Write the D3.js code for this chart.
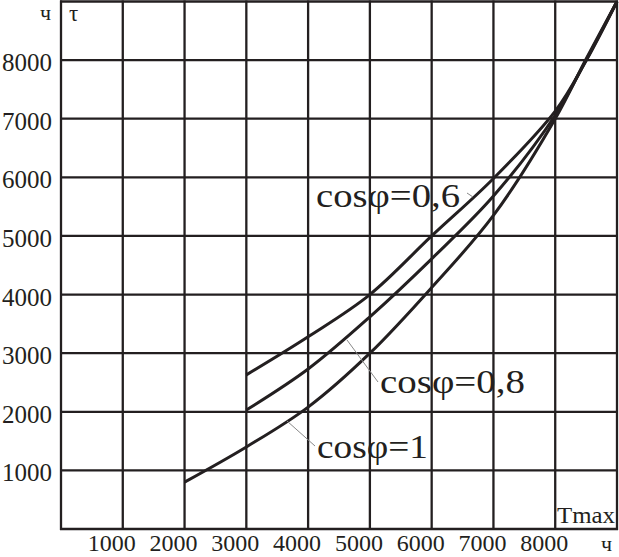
<!DOCTYPE html>
<html><head><meta charset="utf-8">
<script src="https://cdn.jsdelivr.net/npm/d3@7/dist/d3.min.js"></script>
<style>body{margin:0;background:#fff}svg{display:block}</style>
</head><body>
<script>
const xTicks = [1000,2000,3000,4000,5000,6000,7000,8000];
const yTicks = [1000,2000,3000,4000,5000,6000,7000,8000];
const gridVals = [0,1000,2000,3000,4000,5000,6000,7000,8000,9000];
const tmaxCos06 = [3000,4000,5000,6000,7000,8000,8500,9000];
const tauCos06  = [2630,3280,4000,5000,5980,7130,7990,9000];
const tmaxCos08 = [3000,4000,5000,6000,7000,8000,8500,9000];
const tauCos08  = [2030,2730,3620,4610,5680,7060,8000,9000];
const tmaxCos1  = [2000,3000,4000,5000,6000,7000,8000,8500,9000];
const tauCos1   = [800,1400,2080,3000,4120,5350,7000,8020,9000];
const labels = ["cosφ=0,6","cosφ=0,8","cosφ=1"];

const W=619,H=557;
const svg=d3.select("body").append("svg").attr("width",W).attr("height",H);
const x=d3.scaleLinear().domain([0,9000]).range([61,617]);
const y=d3.scaleLinear().domain([0,9000]).range([529,1.5]);
const ink="#231f20";
const font="'Liberation Serif','Times New Roman',serif";

// grid
const g=svg.append("g");
g.selectAll("line.v").data(gridVals).join("line")
 .attr("x1",d=>x(d)).attr("x2",d=>x(d)).attr("y1",y(0)+1).attr("y2",y(9000)-1)
 .attr("stroke",ink).attr("stroke-width",2.3);
g.selectAll("line.h").data(gridVals).join("line")
 .attr("y1",d=>y(d)).attr("y2",d=>y(d)).attr("x1",x(0)-1).attr("x2",x(9000)+1)
 .attr("stroke",ink).attr("stroke-width",2.3);

// tick labels
svg.selectAll("text.yt").data(yTicks).join("text")
 .attr("x",52).attr("y",d=>y(d)+11).attr("text-anchor","end")
 .attr("font-family",font).attr("font-size",25).attr("fill",ink).text(d=>d);
svg.selectAll("text.xt").data(xTicks).join("text")
 .attr("x",d=>x(d)-11).attr("y",551).attr("text-anchor","middle")
 .attr("font-family",font).attr("font-size",24).attr("fill",ink).text(d=>d);

// axis unit labels
svg.append("text").attr("x",40).attr("y",20).attr("font-family",font).attr("font-size",22).attr("fill",ink).text("ч");
svg.append("text").attr("x",69).attr("y",21).attr("font-family",font).attr("font-size",23).attr("fill",ink).text("τ");
svg.append("text").attr("x",601).attr("y",551).attr("font-family",font).attr("font-size",22).attr("fill",ink).text("ч");
svg.append("text").attr("x",557).attr("y",523).attr("font-family",font).attr("font-size",24).attr("fill",ink)
 .attr("textLength",58).attr("lengthAdjust","spacingAndGlyphs").text("Tmax");

// curves
const line=d3.line().x(d=>x(d[0])).y(d=>y(d[1])).curve(d3.curveCatmullRom.alpha(0.5));
const series=[d3.zip(tmaxCos06,tauCos06),d3.zip(tmaxCos08,tauCos08),d3.zip(tmaxCos1,tauCos1)];
svg.selectAll("path.c").data(series).join("path")
 .attr("d",line).attr("fill","none").attr("stroke",ink).attr("stroke-width",3);

// leader lines
const leaders=[[467,193,473,197],[347,340,378,382],[287,421,315,446]];
svg.selectAll("line.ld").data(leaders).join("line")
 .attr("x1",d=>d[0]).attr("y1",d=>d[1]).attr("x2",d=>d[2]).attr("y2",d=>d[3])
 .attr("stroke","#888").attr("stroke-width",1);

// curve labels
const lpos=[[316,207,144],[380,393,145],[317,458,111]];
svg.selectAll("text.cl").data(labels).join("text")
 .attr("x",(d,i)=>lpos[i][0]).attr("y",(d,i)=>lpos[i][1])
 .attr("textLength",(d,i)=>lpos[i][2]).attr("lengthAdjust","spacingAndGlyphs")
 .attr("font-family",font).attr("font-size",33).attr("fill",ink).text(d=>d);
</script>
</body></html>
